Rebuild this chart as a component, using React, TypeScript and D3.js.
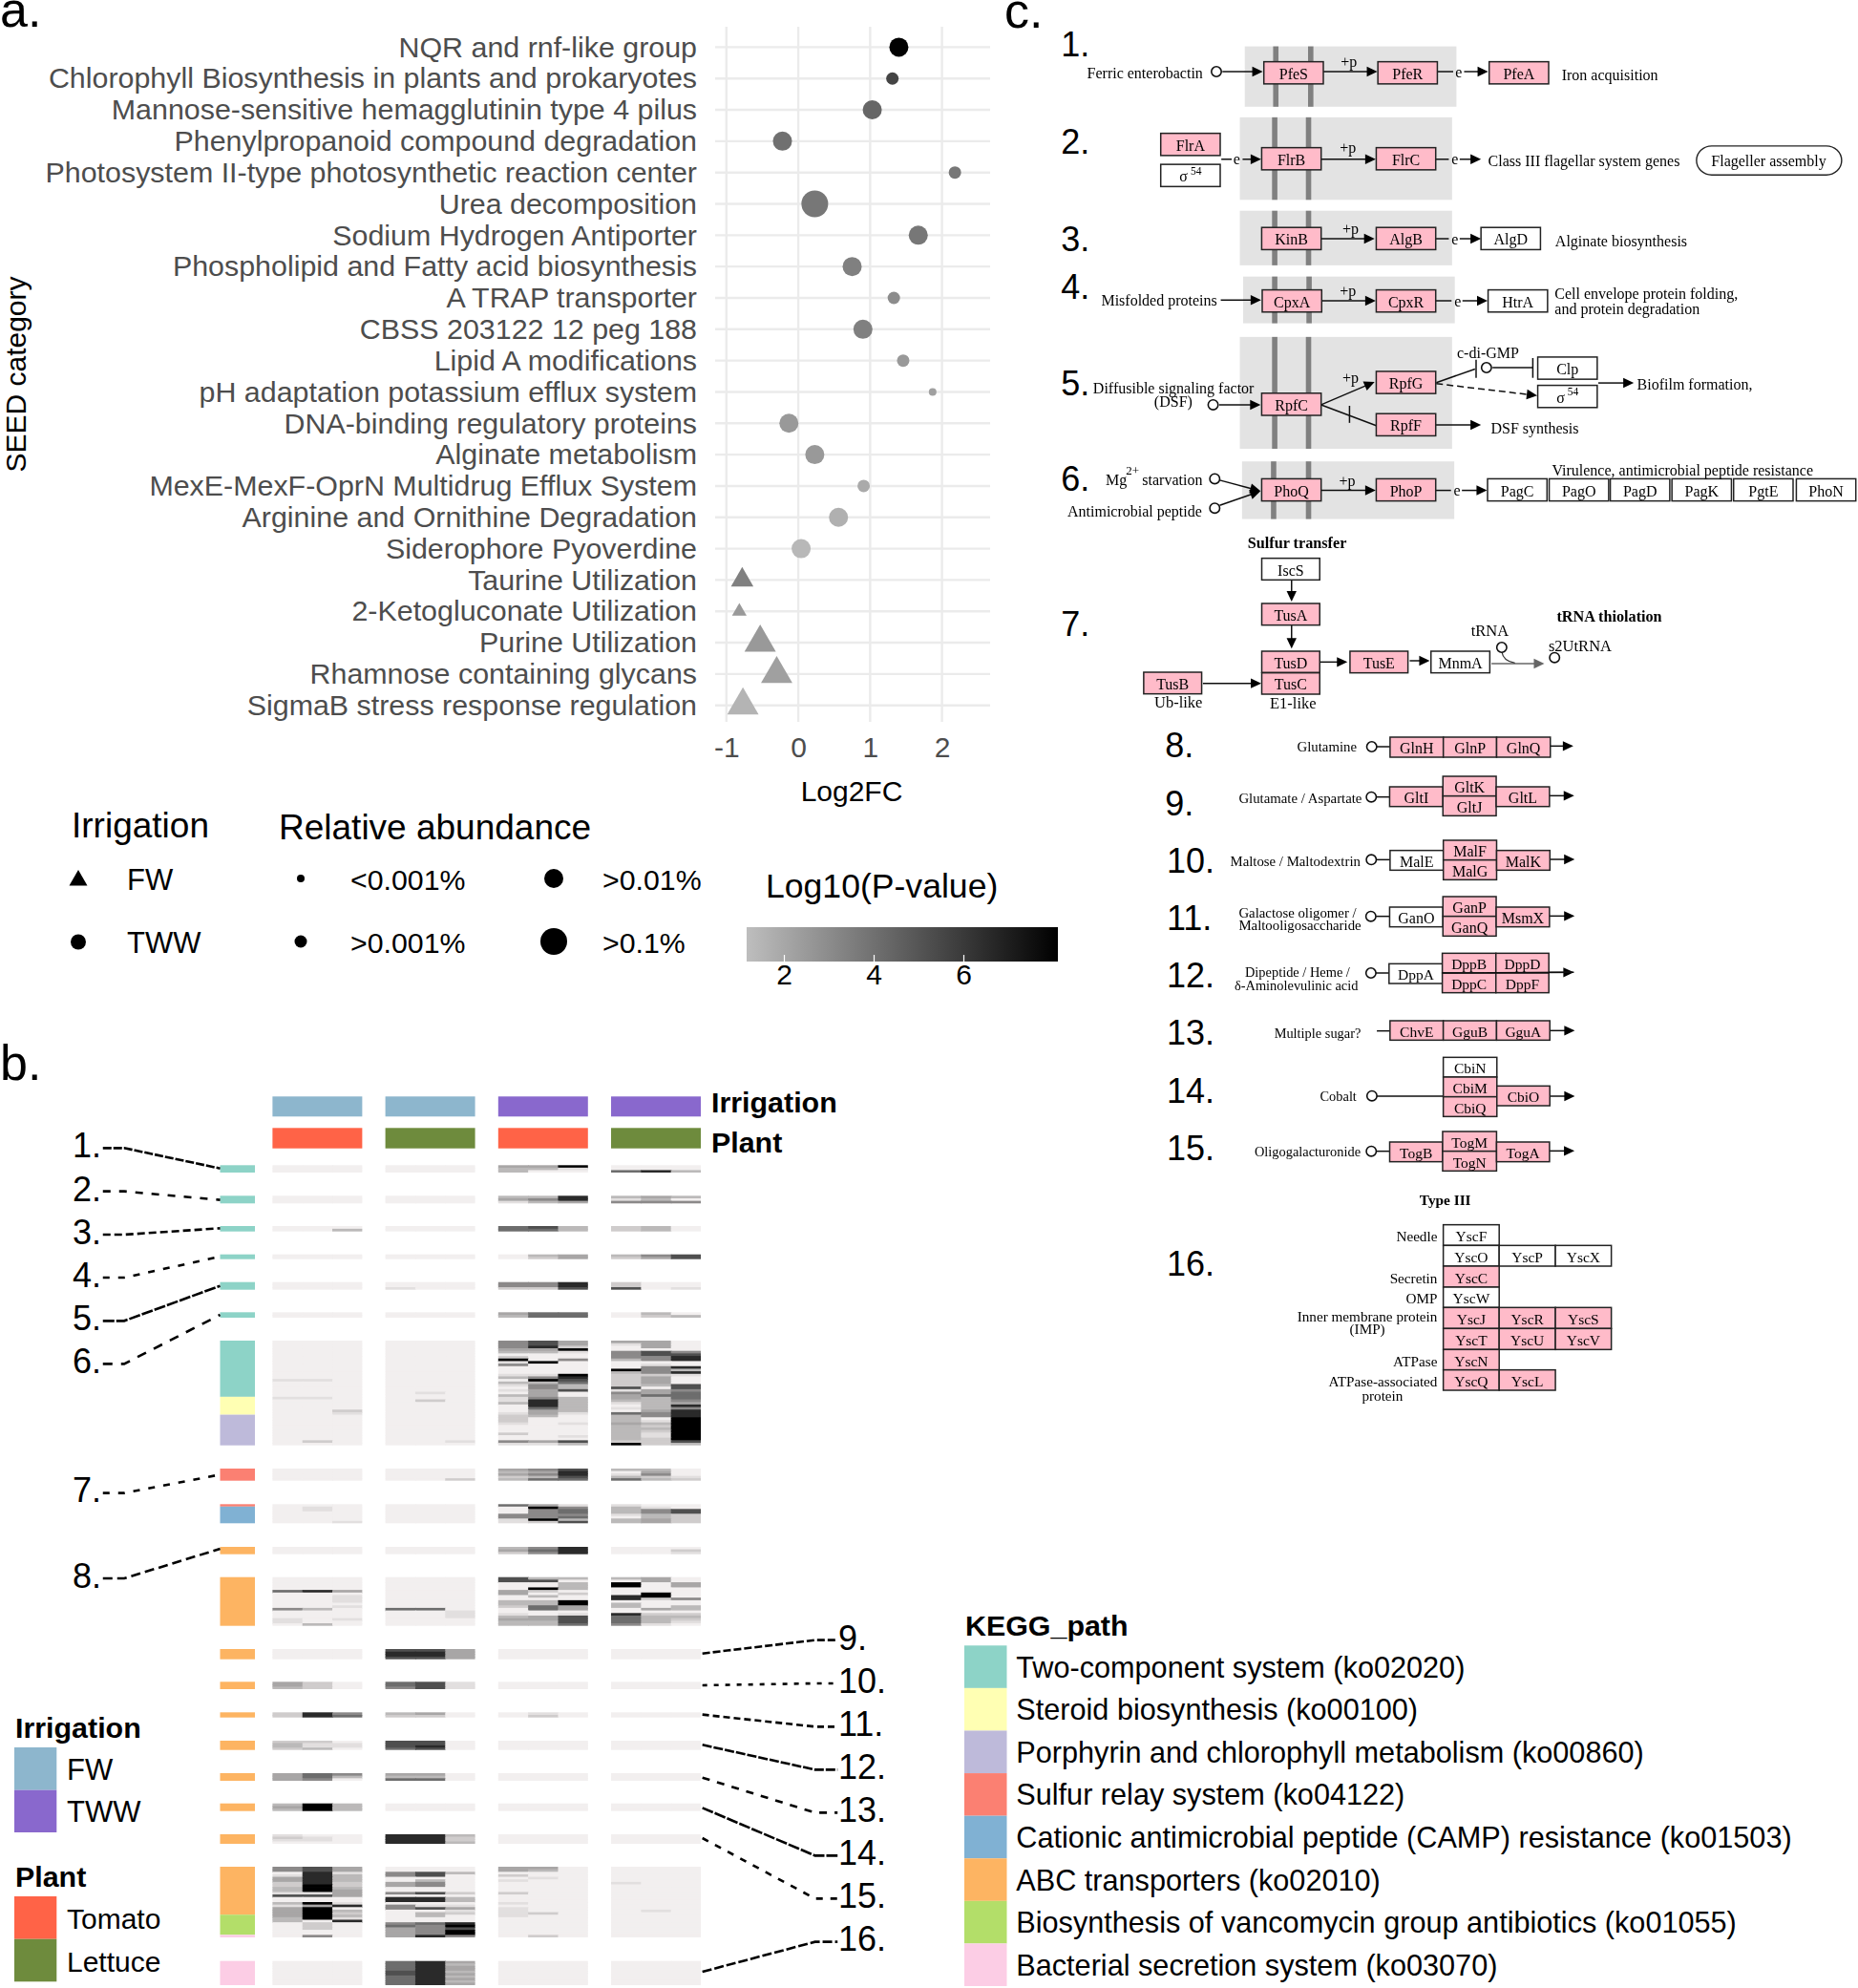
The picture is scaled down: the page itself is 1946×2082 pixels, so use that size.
import React, { useEffect, useRef } from 'react';
import * as d3 from 'd3';

// ---- panel a data
const seedCategories = ['NQR and rnf-like group', 'Chlorophyll Biosynthesis in plants and prokaryotes', 'Mannose-sensitive hemagglutinin type 4 pilus', 'Phenylpropanoid compound degradation', 'Photosystem II-type photosynthetic reaction center', 'Urea decomposition', 'Sodium Hydrogen Antiporter', 'Phospholipid and Fatty acid biosynthesis', 'A TRAP transporter', 'CBSS 203122 12 peg 188', 'Lipid A modifications', 'pH adaptation potassium efflux system', 'DNA-binding regulatory proteins', 'Alginate metabolism', 'MexE-MexF-OprN Multidrug Efflux System', 'Arginine and Ornithine Degradation', 'Siderophore Pyoverdine', 'Taurine Utilization', '2-Ketogluconate Utilization', 'Purine Utilization', 'Rhamnose containing glycans', 'SigmaB stress response regulation'];
const log2fc = [1.4, 1.31, 1.03, -0.22, 2.18, 0.23, 1.67, 0.75, 1.33, 0.9, 1.46, 1.87, -0.13, 0.23, 0.91, 0.56, 0.04, -0.78, -0.82, -0.53, -0.3, -0.77];
const logP = [8.0, 5.6, 4.35, 3.98, 3.73, 3.73, 3.73, 3.4, 2.96, 3.4, 2.49, 2.23, 2.49, 2.49, 1.87, 1.65, 1.36, 3.4, 2.49, 2.49, 2.23, 1.5];
const abundanceClass = [2, 1, 2, 2, 1, 3, 2, 2, 1, 2, 1, 0, 2, 2, 1, 2, 2, 2, 1, 3, 3, 3];
const isFW = [0, 0, 0, 0, 0, 0, 0, 0, 0, 0, 0, 0, 0, 0, 0, 0, 0, 1, 1, 1, 1, 1];
const abundanceLabels = ['<0.001%', '>0.001%', '>0.01%', '>0.1%'];

// ---- panel b data: one digit per cell, 0 = background grey, 9 = black
// big blocks are easier to read off column by column
const fromCols = (cols: string[], n: number) => d3.transpose(cols.map(c => [...c.padEnd(n, '0')])).map((r: any) => r.join(''));

const blockTeal1 = ['000000449000', '000000331000', '000000300683'];
const blockTeal2 = ['000000338343', '000000458130', '000000134555'];
const blockTeal3 = ['000000673230', '003000663230'];
const blockTeal4 = ['000000034357', '000000024247'];
const blockTeal5 = ['000000558200', '000000558200', '000100227701'];
const blockTeal6 = ['000000466030', '000000366023'];
const blockTwoComp = fromCols([
  '000000000000000100000010',
  '0000000000000001000000100000000000000002',
  '0000000000000000000000000002100',
  '',
  '000000000000000000001002',
  '0000000000000000000000000000000000000001',
  '5554302915' + '0001303101' + '0311300012' + '22100020051',
  '7784300090' + '0001593554' + '4458886443' + '00000000041',
  '4429100500' + '0009876337' + '0033333310' + '00100001073',
  '4100555300' + '0932222271' + '5443101063' + '33433333329',
  '4440775501' + '5552444304' + '4633333455' + '01323211222',
  '0000578800' + '8381000775' + '6665485888' + '99999999973',
], 41);
const blockSulfur = ['000000457330', '000000348040', '000000458150', '000000237321', '000002366632'];
const blockCamp = ['000000641100', '010000095310', '010000056357', '000000056357', '000000555132', '000000556032', '000000193342', '001000127342'];
const blockAbc1 = ['000000358000', '000000468002', '000000258001'];
const blockAbc2 = fromCols(['0000060000005000110', '0000080000003000003', '0000040111010000100', '0000000000006000000', '0000000000006000000', '0000000000000111000', '7700044003320013433', '3700920303366004433', '3033302009944017776', '3099000880330086665', '4400009920004023331', '0044000050033023210'], 19);
const stripAbc3 = ['000774000000', '000884000000', '000884000000', '000774000000'];
const stripAbc4 = ['420671000000', '420671000000', '320571000000'];
const stripAbc5 = ['285340010000', '286220020000'];
const stripAbc6 = ['220770000000', '311770000000', '311780000000', '230670000000'];
const stripAbc7 = ['465440000000', '463330000000', '450660000000'];
const stripAbc8 = ['393000000000', '493000000000', '393000000000'];
const stripAbc9 = ['100883000000', '210882000000', '110882000000', '000883000000'];
const blockAbc10 = fromCols([
  '5501442233' + '1700314444' + '33000000',
  '7788888999' + '1700949999' + '90222005',
  '4413332234' + '4400180323' + '18000000',
  '0055004400' + '5088055000' + '00564444',
  '0077035500' + '7088017033' + '00655558',
  '0030000000' + '2033014120' + '00897995',
  '4402010000' + '2000101111' + '00000000',
  '4300100000' + '0000000020' + '00000002',
  '',
  '0000001000',
  '00000000000000000100',
  '',
], 28);
const blockSecretion = ['000684000000', '000683000000', '000684000000', '000684000000', '000783000000', '000784000000', '000683000000', '000684000000', '000683000000', '000684000000'];

const heatBlocks = [blockTeal1, blockTeal2, blockTeal3, blockTeal4, blockTeal5, blockTeal6, blockTwoComp, blockSulfur, blockCamp, blockAbc1, blockAbc2, stripAbc3, stripAbc4, stripAbc5, stripAbc6, stripAbc7, stripAbc8, stripAbc9, blockAbc10, blockSecretion];
// kegg category per block as [category, row count]
const blockPaths: number[][][] = [[[0, 3]], [[0, 3]], [[0, 2]], [[0, 2]], [[0, 3]], [[0, 2]], [[0, 22], [1, 7], [2, 12]], [[3, 5]], [[3, 1], [4, 7]], [[5, 3]], [[5, 19]], [[5, 4]], [[5, 3]], [[5, 2]], [[5, 4]], [[5, 3]], [[5, 3]], [[5, 4]], [[5, 19], [6, 8], [7, 1]], [[7, 10]]];
const blockSpans = [[1220.3, 1228], [1252.3, 1260.3], [1284, 1289.7], [1313.7, 1318.7], [1342.7, 1350.7], [1374.3, 1380], [1404, 1513.7], [1538, 1550.7], [1575.3, 1595.3], [1620, 1627.7], [1651.7, 1702.7], [1727, 1737.7], [1761.3, 1769], [1793.3, 1798.7], [1823, 1832.7], [1857, 1865], [1888.7, 1896.7], [1921, 1931], [1955, 2029], [2053.7, 2079]];
const heatGroups = ['FW Tomato', 'FW Lettuce', 'TWW Tomato', 'TWW Lettuce'];

const keggPaths = ['Two-component system (ko02020)', 'Steroid biosynthesis (ko00100)', 'Porphyrin and chlorophyll metabolism (ko00860)', 'Sulfur relay system (ko04122)', 'Cationic antimicrobial peptide (CAMP) resistance (ko01503)', 'ABC transporters (ko02010)', 'Biosynthesis of vancomycin group antibiotics (ko01055)', 'Bacterial secretion system (ko03070)'];
const keggColors = ['#8DD3C7', '#FFFFB3', '#BEBADA', '#FB8072', '#80B1D3', '#FDB462', '#B3DE69', '#FCCDE5'];
const irrigationColors: any = { FW: '#8DB6CD', TWW: '#8968CD' };
const plantColors: any = { Tomato: '#FF6347', Lettuce: '#6E8B3D' };

// leader lines, traced in crop coordinates
const leftLeaders = [
  ['1.', 208, '9 2', [[107, 217], [157, 217], [382, 281]]],
  ['2.', 345, '8 9', [[107, 353], [157, 353], [382, 380]]],
  ['3.', 480, '8 4', [[107, 489], [157, 489], [382, 469]]],
  ['4.', 615, '7 9', [[107, 624], [157, 624], [382, 558]]],
  ['5.', 750, '12 2', [[107, 760], [157, 760], [382, 650]]],
  ['6.', 885, '10 9', [[107, 895], [157, 895], [382, 741]]],
  ['7.', 1290, '7 9', [[107, 1301], [157, 1301], [382, 1243]]],
  ['8.', 1560, '10 5', [[107, 1569], [157, 1569], [382, 1476]]],
];
const rightLeaders = [
  ['9.', 285, '8 3', [[1135, 335], [1385, 293], [1435, 293]]],
  ['10.', 420, '5 7', [[1135, 435], [1385, 429], [1435, 429]]],
  ['11.', 555, '7 4', [[1135, 527], [1385, 565], [1435, 565]]],
  ['12.', 690, '10 2', [[1135, 622], [1385, 700], [1435, 700]]],
  ['13.', 825, '8 8', [[1135, 725], [1385, 835], [1435, 835]]],
  ['14.', 960, '12 2', [[1135, 820], [1385, 970], [1435, 970]]],
  ['15.', 1097, '7 8', [[1135, 915], [1385, 1105], [1435, 1105]]],
  ['16.', 1232, '10 3', [[1135, 1335], [1385, 1241], [1435, 1241]]],
];

// ---- panel c: KEGG pathway drawings, in crop coordinates of each part
const partA = { x: d3.scaleLinear([0, 1568], [1050, 1946]), y: d3.scaleLinear([0, 1568], [0, 560]) };
const partB = { x: d3.scaleLinear([0, 1568], [1080, 1780]), y: d3.scaleLinear([0, 1440], [540, 1020]) };
const partC = { x: d3.scaleLinear([0, 1568], [1180, 1720]), y: d3.scaleLinear([0, 1440], [1000, 1480]) };

const membranes = [[444, 832, 136, 313, 496, 560], [435, 824, 344, 586, 494, 556], [435, 824, 618, 778, 494, 556], [441, 829, 811, 948, 494, 557], [435, 824, 988, 1316, 494, 556], [439, 828, 1353, 1522, 492, 556]];
const boxesA: any[] = [['PfeS', 479, 181, 1], ['PfeR', 688, 181, 1], ['PfeA', 892, 181, 1], ['FlrA', 290, 391, 1], ['σ', 290, 482, 0], ['FlrB', 475, 433, 1], ['FlrC', 685, 433, 1], ['KinB', 475, 667, 1], ['AlgB', 685, 667, 1], ['AlgD', 877, 667, 0], ['CpxA', 476, 850, 1], ['CpxR', 685, 850, 1], ['HtrA', 890, 850, 0], ['RpfC', 475, 1153, 1], ['RpfG', 685, 1089, 1], ['RpfF', 685, 1213, 1], ['Clp', 981, 1047, 0], ['σ', 981, 1130, 0], ['PhoQ', 475, 1404, 1], ['PhoP', 685, 1404, 1], ['PagC', 889, 1404, 0], ['PagO', 1002, 1404, 0], ['PagD', 1114, 1404, 0], ['PagK', 1227, 1404, 0], ['PgtE', 1340, 1404, 0], ['PhoN', 1455, 1404, 0]];
const labelsA: any[] = [['Ferric enterobactin', 155, 215], ['Iron acquisition', 1025, 220], ['Class III flagellar system genes', 890, 473], ['Flageller assembly', 1299, 473], ['Alginate biosynthesis', 1013, 706], ['Misfolded proteins', 181, 881], ['Cell envelope protein folding,', 1012, 862], ['and protein degradation', 1012, 905], ['Diffusible signaling factor', 166, 1137], ['(DSF)', 278, 1178], ['c-di-GMP', 833, 1035], ['Biofilm formation,', 1163, 1128], ['DSF synthesis', 895, 1256], ['Mg', 189, 1407], ['starvation', 256, 1407], ['Antimicrobial peptide', 119, 1500], ['Virulence, antimicrobial peptide resistance', 1007, 1380], ['+p', 620, 180], ['+p', 618, 432], ['+p', 623, 670], ['+p', 618, 852], ['+p', 623, 1108], ['+p', 617, 1410], ['e', 830, 210], ['e', 423, 467], ['e', 823, 467], ['e', 823, 700], ['e', 828, 882], ['e', 827, 1438]];
const linesA: any[] = [[403, 210, 477, 210, 'a'], [588, 210, 687, 210, 'a'], [797, 210, 826, 210, 'l'], [846, 210, 890, 210, 'a'], [401, 467, 420, 467, 'l'], [440, 467, 474, 467, 'a'], [584, 467, 684, 467, 'a'], [793, 467, 818, 467, 'l'], [838, 467, 877, 467, 'a'], [584, 700, 682, 700, 'a'], [793, 700, 818, 700, 'l'], [838, 700, 877, 700, 'a'], [400, 880, 474, 880, 'a'], [585, 882, 684, 882, 'a'], [793, 882, 823, 882, 'l'], [843, 882, 889, 882, 'a'], [397, 1187, 473, 1187, 'a'], [584, 1187, 682, 1120, 'a'], [584, 1187, 685, 1248, 'l'], [636, 1190, 636, 1240, 'l'], [793, 1246, 877, 1246, 'a'], [795, 1122, 866, 1082, 'l'], [868, 1055, 868, 1108, 'l'], [898, 1078, 972, 1078, 'l'], [972, 1050, 972, 1108, 'l'], [795, 1125, 980, 1160, 'd'], [1092, 1123, 1157, 1123, 'a'], [398, 1408, 473, 1440, 'a'], [398, 1482, 473, 1440, 'a'], [584, 1438, 684, 1438, 'a'], [793, 1438, 822, 1438, 'l'], [842, 1438, 888, 1438, 'a']];
const circlesA = [[392, 210], [386, 1187], [887, 1078], [389, 1404], [389, 1490]];
const numbersA: any[] = [['1.', 107, 130], ['2.', 107, 415], ['3.', 107, 700], ['4.', 107, 840], ['5.', 107, 1125], ['6.', 107, 1405]];

const boxesB: any[] = [['IscS', 541, 134, 677, 202, 0], ['TusA', 541, 276, 677, 344, 1], ['TusD', 541, 426, 677, 493, 1], ['TusC', 541, 494, 677, 561, 1], ['TusE', 748, 426, 884, 494, 1], ['MnmA', 938, 426, 1076, 494, 0], ['TusB', 264, 492, 400, 560, 1], ['GlnH', 842, 696, 967, 759, 1], ['GlnP', 967, 696, 1092, 759, 1], ['GlnQ', 1092, 696, 1218, 759, 1], ['GltI', 841, 852, 966, 914, 1], ['GltK', 966, 819, 1091, 881, 1], ['GltJ', 966, 881, 1091, 943, 1], ['GltL', 1091, 852, 1216, 914, 1], ['MalE', 842, 1052, 967, 1114, 0], ['MalF', 967, 1020, 1092, 1082, 1], ['MalG', 967, 1082, 1092, 1144, 1], ['MalK', 1092, 1052, 1217, 1114, 1], ['GanO', 841, 1230, 966, 1292, 0], ['GanP', 966, 1197, 1091, 1259, 1], ['GanQ', 966, 1259, 1091, 1321, 1], ['MsmX', 1091, 1230, 1216, 1292, 1]];
const labelsB: any[] = [['Glutamine', 624, 727], ['Glutamate / Aspartate', 487, 889], ['Maltose / Maltodextrin', 467, 1086], ['Galactose oligomer /', 487, 1247], ['Maltooligosaccharide', 487, 1286]];
const largeLabelsB: any[] = [['Ub-like', 289, 586], ['E1-like', 560, 590], ['tRNA', 1032, 360], ['s2UtRNA', 1214, 408]];
const boldB: any[] = [['Sulfur transfer', 508, 88], ['tRNA thiolation', 1233, 318]];
const linesB: any[] = [[611, 202, 611, 270, 'a'], [611, 344, 611, 418, 'a'], [677, 460, 742, 460, 'a'], [888, 456, 935, 456, 'a'], [403, 527, 540, 527, 'a'], [811, 726, 842, 726, 'l'], [1218, 724, 1272, 724, 'a'], [810, 884, 841, 884, 'l'], [1216, 880, 1274, 880, 'a'], [810, 1081, 842, 1081, 'l'], [1217, 1080, 1275, 1080, 'a'], [809, 1259, 841, 1259, 'l'], [1216, 1258, 1275, 1258, 'a'], [1080, 465, 1204, 465, 'g']];
const circlesB = [[1104, 414], [1228, 446], [799, 726], [798, 884], [798, 1081], [797, 1259]];
const numbersB: any[] = [['7.', 70, 340], ['8.', 314, 722], ['9.', 314, 903], ['10.', 318, 1083], ['11.', 318, 1263]];

const boxesC: any[] = [['DppA', 798, 28, 961, 90, 0], ['DppB', 960, -5, 1123, 57, 1], ['DppD', 1123, -5, 1284, 57, 1], ['DppC', 960, 57, 1123, 119, 1], ['DppF', 1123, 57, 1284, 119, 1], ['ChvE', 801, 207, 963, 268, 1], ['GguB', 963, 207, 1125, 268, 1], ['GguA', 1125, 207, 1287, 268, 1], ['CbiN', 963, 322, 1126, 384, 0], ['CbiM', 963, 384, 1126, 446, 1], ['CbiQ', 963, 446, 1126, 508, 1], ['CbiO', 1126, 412, 1287, 474, 1], ['TogB', 800, 588, 961, 650, 1], ['TogM', 961, 555, 1125, 617, 1], ['TogN', 961, 617, 1125, 679, 1], ['TogA', 1125, 588, 1286, 650, 1], ['YscF', 963, 848, 1133, 913, 0], ['YscO', 963, 913, 1133, 978, 0], ['YscP', 1133, 913, 1304, 978, 0], ['YscX', 1304, 913, 1474, 978, 0], ['YscC', 963, 978, 1133, 1044, 1], ['YscW', 963, 1044, 1133, 1108, 0], ['YscJ', 963, 1108, 1133, 1174, 1], ['YscR', 1133, 1108, 1304, 1174, 1], ['YscS', 1304, 1108, 1474, 1174, 1], ['YscT', 963, 1174, 1133, 1240, 1], ['YscU', 1133, 1174, 1304, 1240, 1], ['YscV', 1304, 1174, 1474, 1240, 1], ['YscN', 963, 1240, 1133, 1304, 1], ['YscQ', 963, 1304, 1133, 1368, 1], ['YscL', 1133, 1304, 1304, 1368, 1]];
const labelsC: any[] = [['Dipeptide / Heme /', 360, 55], ['δ-Aminolevulinic acid', 328, 95], ['Multiple sugar?', 449, 245], ['Cobalt', 588, 443], ['Oligogalacturonide', 389, 618]];
const rightLabelsC: any[] = [['Needle', 945, 884], ['Secretin', 945, 1014], ['OMP', 945, 1078], ['Inner membrane protein', 945, 1134], ['ATPase', 945, 1275], ['ATPase-associated', 945, 1340]];
const midLabelsC: any[] = [['(IMP)', 732, 1173], ['protein', 778, 1383]];
const linesC: any[] = [[755, 57, 798, 57, 'l'], [1284, 55, 1360, 55, 'a'], [761, 239, 801, 239, 'l'], [1287, 238, 1363, 238, 'a'], [760, 444, 963, 444, 'l'], [1287, 444, 1363, 444, 'a'], [756, 617, 800, 617, 'l'], [1286, 616, 1362, 616, 'a']];
const circlesC = [[743, 57], [746, 443], [744, 617]];
const numbersC: any[] = [['12.', 122, 65], ['13.', 122, 245], ['14.', 122, 428], ['15.', 122, 607], ['16.', 122, 970]];

const SANS = '"Liberation Sans", Arial, sans-serif';
const SERIF = '"Liberation Serif", "Times New Roman", serif';
const PINK = '#FFBBC9';

function App() {
  const svgRef = useRef<SVGSVGElement>(null);

  useEffect(() => {
    const svg = d3.select(svgRef.current).attr('font-family', SANS);
    svg.selectAll('*').remove();
    const put = (g: any, s: string, x: number, y: number, size: number, opts: any = {}) =>
      g.append('text').text(s).attr('x', x).attr('y', y).attr('font-size', size)
        .attr('text-anchor', opts.anchor || 'start').attr('dominant-baseline', opts.base || 'central')
        .attr('fill', opts.fill || '#000').attr('font-weight', opts.weight || 'normal');

    put(svg, 'a.', 0, 28, 52, { base: 'alphabetic' });
    put(svg, 'b.', 0, 1131, 52, { base: 'alphabetic' });
    put(svg, 'c.', 1052, 29, 52, { base: 'alphabetic' });

    // ---- panel a
    const a = svg.append('g');
    const x = d3.scaleLinear().domain([-1, 2]).range([760.8, 986.6]);
    const y = d3.scalePoint().domain(seedCategories).range([49.4, 738.7]);
    const pColor = d3.scaleLinear<string>().domain([1.14, 8.07]).range(['#bebebe', '#000000']);
    const radius = d3.scaleOrdinal<number, number>().domain([0, 1, 2, 3]).range([4, 6.5, 10, 14]);

    a.selectAll('.hgrid').data(seedCategories).join('line').attr('x1', 749).attr('x2', 1037)
      .attr('y1', d => y(d)).attr('y2', d => y(d)).attr('stroke', '#ebebeb').attr('stroke-width', 2.4);
    a.selectAll('.vgrid').data(x.ticks(3)).join('line').attr('x1', d => x(d)).attr('x2', d => x(d))
      .attr('y1', 28).attr('y2', 756).attr('stroke', '#ebebeb').attr('stroke-width', 2.4);

    const xAxis = a.append('g').attr('transform', 'translate(0,756)')
      .call(d3.axisBottom(x).tickValues([-1, 0, 1, 2]).tickSize(0).tickPadding(16).tickFormat((d: any) => String(d)));
    xAxis.select('.domain').remove();
    xAxis.selectAll('text').attr('font-size', 30).attr('font-family', SANS).attr('fill', '#4d4d4d');

    const yAxis = a.append('g').attr('transform', 'translate(730,0)')
      .call(d3.axisLeft(y).tickSize(0).tickPadding(0));
    yAxis.select('.domain').remove();
    yAxis.selectAll('text').attr('font-size', 30.4).attr('font-family', SANS).attr('fill', '#4d4d4d');

    const triSide = (r: number) => r * 2.35;
    a.selectAll('.pt').data(seedCategories).join('path')
      .attr('transform', d => `translate(${x(log2fc[seedCategories.indexOf(d)])},${y(d)})`)
      .attr('d', d => {
        const i = seedCategories.indexOf(d);
        const r = radius(abundanceClass[i]);
        return isFW[i]
          ? d3.symbol(d3.symbolTriangle, triSide(r) ** 2 * Math.sqrt(3) / 4)()
          : d3.symbol(d3.symbolCircle, Math.PI * r * r)();
      })
      .attr('fill', d => pColor(logP[seedCategories.indexOf(d)]));

    put(a, 'Log2FC', 892, 828, 30, { anchor: 'middle' });
    a.append('text').text('SEED category').attr('transform', 'translate(16,392) rotate(-90)')
      .attr('text-anchor', 'middle').attr('dominant-baseline', 'central').attr('font-size', 30);

    // legends of panel a
    put(a, 'Irrigation', 75, 864, 37);
    put(a, 'Relative abundance', 292, 866, 37);
    a.append('path').attr('transform', 'translate(82,922)').attr('d', d3.symbol(d3.symbolTriangle, 19 * 19 * Math.sqrt(3) / 4)());
    a.append('circle').attr('cx', 82).attr('cy', 986.5).attr('r', 8);
    put(a, 'FW', 133, 921, 31);
    put(a, 'TWW', 133, 987, 31);
    abundanceLabels.forEach((s, i) => {
      const lx = i < 2 ? 315 : 580;
      const ly = i % 2 ? 986 : 920;
      a.append('circle').attr('cx', lx).attr('cy', ly).attr('r', radius(i));
      put(a, s, i < 2 ? 367 : 631, ly + 1, 30.3);
    });
    put(a, 'Log10(P-value)', 802, 928, 35.6);
    const grad = svg.append('defs').append('linearGradient').attr('id', 'pgrad');
    d3.range(0, 1.01, 0.1).forEach(t => grad.append('stop').attr('offset', t).attr('stop-color', pColor(1.14 + t * 6.93)));
    a.append('rect').attr('x', 782).attr('y', 971).attr('width', 326).attr('height', 36).attr('fill', 'url(#pgrad)');
    const bar = d3.scaleLinear().domain([2, 6]).range([821.5, 1009.5]);
    [2, 4, 6].forEach(t => {
      a.append('line').attr('x1', bar(t)).attr('x2', bar(t)).attr('y1', 1000).attr('y2', 1007).attr('stroke', '#fff').attr('stroke-width', 1.2);
      put(a, String(t), bar(t), 1020, 30, { anchor: 'middle' });
    });

    // ---- panel b
    const defs = svg.select('defs');
    defs.append('filter').attr('id', 'soft').attr('x', '-2%').attr('width', '104%').attr('y', '-2%').attr('height', '104%')
      .append('feGaussianBlur').attr('stdDeviation', 0.6);
    defs.append('filter').attr('id', 'soft2').attr('x', '-2%').attr('width', '104%').attr('y', '-2%').attr('height', '104%')
      .append('feGaussianBlur').attr('stdDeviation', 0.35);

    const b = svg.append('g');
    const group = d3.scaleBand().domain(heatGroups).range([285.4, 734]).paddingInner(0.205);
    const cell = d3.scaleBand<number>().domain([0, 1, 2]).range([0, group.bandwidth()]);
    const heatColor = d3.scaleLinear<string>().domain([0, 1, 4, 7, 9]).range(['#f2efef', '#e2dfdf', '#a8a6a6', '#505050', '#050505']);

    heatGroups.forEach(gr => {
      const [irr, plant] = gr.split(' ');
      b.append('rect').attr('x', group(gr)).attr('width', group.bandwidth()).attr('y', 1148.3).attr('height', 21).attr('fill', irrigationColors[irr]);
      b.append('rect').attr('x', group(gr)).attr('width', group.bandwidth()).attr('y', 1181.3).attr('height', 21.4).attr('fill', plantColors[plant]);
    });
    put(b, 'Irrigation', 745, 1154, 30.4, { weight: 'bold' });
    put(b, 'Plant', 745, 1196, 30.4, { weight: 'bold' });

    const heat = b.append('g').attr('filter', 'url(#soft)');
    heatBlocks.forEach((rows, bi) => {
      const yRow = d3.scaleBand<number>().domain(d3.range(rows.length)).range(blockSpans[bi] as [number, number]);
      // annotation column: one rect per run of rows with the same category
      let from = 0;
      blockPaths[bi].forEach(([cat, n]) => {
        b.append('rect').attr('x', 230.5).attr('width', 36.5).attr('y', yRow(from)).attr('height', yRow.bandwidth() * n).attr('fill', keggColors[cat]);
        from += n;
      });
      rows.forEach((row, ri) => {
        // rows and cells overlap a little so that no white seam shows between them
        const overlapY = ri < rows.length - 1 ? 0.8 : 0;
        heat.selectAll(null).data([...row]).join('rect')
          .attr('x', (_, ci) => group(heatGroups[Math.floor(ci / 3)])! + cell(ci % 3)!)
          .attr('width', (_, ci) => cell.bandwidth() + (ci % 3 < 2 ? 0.8 : 0))
          .attr('y', yRow(ri)).attr('height', yRow.bandwidth() + overlapY)
          .attr('fill', d => heatColor(+d));
      });
    });

    const leaderL = { x: d3.scaleLinear([0, 1568], [60, 760]), y: d3.scaleLinear([0, 1500], [1130, 1630]) };
    const leaderR = { x: d3.scaleLinear([0, 1568], [200, 940]), y: d3.scaleLinear([0, 1386], [1620, 2082]) };
    const leader = (rows: any[], sc: any, numX: number) => rows.forEach(([s, ny, dash, pts]) => {
      b.append('path').attr('d', d3.line().x((p: any) => sc.x(p[0])).y((p: any) => sc.y(p[1]))(pts))
        .attr('fill', 'none').attr('stroke', '#000').attr('stroke-width', 2.6).attr('stroke-dasharray', dash);
      put(b, s, numX, sc.y(ny), 36);
    });
    leader(leftLeaders, leaderL, 76);
    leader(rightLeaders, leaderR, 878);

    // legends of panel b
    put(b, 'Irrigation', 16, 1809, 30.4, { weight: 'bold' });
    b.append('rect').attr('x', 15).attr('y', 1830).attr('width', 44.3).attr('height', 44.7).attr('fill', irrigationColors.FW);
    b.append('rect').attr('x', 15).attr('y', 1874.7).attr('width', 44.3).attr('height', 44.3).attr('fill', irrigationColors.TWW);
    put(b, 'FW', 70, 1853, 31);
    put(b, 'TWW', 70, 1897.7, 31);
    put(b, 'Plant', 16, 1965, 30.4, { weight: 'bold' });
    b.append('rect').attr('x', 15).attr('y', 1986).attr('width', 44.3).attr('height', 44.7).attr('fill', plantColors.Tomato);
    b.append('rect').attr('x', 15).attr('y', 2030.7).attr('width', 44.3).attr('height', 44.6).attr('fill', plantColors.Lettuce);
    put(b, 'Tomato', 70, 2009, 30);
    put(b, 'Lettuce', 70, 2054, 30);

    put(b, 'KEGG_path', 1011, 1702, 30.4, { weight: 'bold' });
    const keggY = d3.scaleBand().domain(keggPaths).range([1723.3, 2080]);
    keggPaths.forEach((s, i) => {
      b.append('rect').attr('x', 1010).attr('width', 44.5).attr('y', keggY(s)).attr('height', keggY.bandwidth()).attr('fill', keggColors[i]);
      put(b, s, 1064.3, keggY(s)! + keggY.bandwidth() / 2, 30.65);
    });

    // ---- panel c
    const c = svg.append('g').attr('font-family', SERIF);
    const soft = c.append('g').attr('filter', 'url(#soft2)');
    const drawArrows = (rows: any[], p: any) => rows.forEach(([x1, y1, x2, y2, kind]) => {
      const [ax, ay, bx, by] = [p.x(x1), p.y(y1), p.x(x2), p.y(y2)];
      const ang = Math.atan2(by - ay, bx - ax);
      const hasHead = kind !== 'l';
      const color = kind === 'g' ? '#666' : '#111';
      soft.append('line').attr('x1', ax).attr('y1', ay)
        .attr('x2', hasHead ? bx - 8 * Math.cos(ang) : bx).attr('y2', hasHead ? by - 8 * Math.sin(ang) : by)
        .attr('stroke', color).attr('stroke-width', 1.5).attr('stroke-dasharray', kind === 'd' ? '7 4' : null);
      if (hasHead) {
        const L = 11, W = 5.2;
        const pts = [[bx, by], [bx - L * Math.cos(ang) - W * Math.sin(ang), by - L * Math.sin(ang) + W * Math.cos(ang)], [bx - L * Math.cos(ang) + W * Math.sin(ang), by - L * Math.sin(ang) - W * Math.cos(ang)]];
        soft.append('polygon').attr('points', pts.map(q => q.join(',')).join(' ')).attr('fill', kind === 'g' ? '#666' : '#000');
      }
    });
    const drawCircles = (rows: number[][], p: any) => rows.forEach(([cx, cy]) => {
      soft.append('circle').attr('cx', p.x(cx)).attr('cy', p.y(cy)).attr('r', 5.2).attr('fill', '#fff').attr('stroke', '#111').attr('stroke-width', 1.6);
    });
    const drawBoxes = (rows: any[], p: any, size: number) => rows.forEach(([s, x0, y0, x1, y1, pink]) => {
      soft.append('rect').attr('x', p.x(x0)).attr('y', p.y(y0)).attr('width', p.x(x1) - p.x(x0)).attr('height', p.y(y1) - p.y(y0))
        .attr('fill', pink ? PINK : '#fff').attr('stroke', '#222').attr('stroke-width', 1.5);
      const t = put(soft, s, (p.x(x0) + p.x(x1)) / 2, (p.y(y0) + p.y(y1)) / 2 + 1, size, { anchor: 'middle' });
      if (s === 'σ') t.append('tspan').text('54').attr('font-size', size * 0.72).attr('dy', -6).attr('dx', 3);
    });
    const drawLabels = (rows: any[], p: any, size: number, opts: any = {}) => rows.forEach(([s, lx, ly]) => put(soft, s, p.x(lx), p.y(ly), size, opts));
    const drawNumbers = (rows: any[], p: any) => rows.forEach(([s, nx, ny]) => {
      c.append('text').text(s).attr('x', p.x(nx)).attr('y', p.y(ny)).attr('font-family', SANS).attr('font-size', 36).attr('dominant-baseline', 'central');
    });

    membranes.forEach(([x0, x1, y0, y1, m1, m2]) => {
      soft.append('rect').attr('x', partA.x(x0)).attr('y', partA.y(y0)).attr('width', partA.x(x1) - partA.x(x0)).attr('height', partA.y(y1) - partA.y(y0)).attr('fill', '#e3e3e3');
      [m1, m2].forEach(m => soft.append('rect').attr('x', partA.x(m)).attr('y', partA.y(y0)).attr('width', 5.6).attr('height', partA.y(y1) - partA.y(y0)).attr('fill', '#808080'));
    });
    soft.append('rect').attr('x', partA.x(1272)).attr('y', partA.y(428)).attr('width', partA.x(1538) - partA.x(1272)).attr('height', partA.y(513) - partA.y(428)).attr('rx', 16).attr('fill', '#fff').attr('stroke', '#222').attr('stroke-width', 1.4);

    drawArrows(linesA, partA);
    drawCircles(circlesA, partA);
    drawBoxes(boxesA.map(([s, x0, y0, pink]) => [s, x0, y0, x0 + 109, y0 + 65, pink]), partA, 16);
    drawLabels(labelsA, partA, 16);
    put(soft, '2+', partA.x(226), partA.y(1380), 13);
    drawNumbers(numbersA, partA);

    drawArrows(linesB, partB);
    soft.append('path').attr('d', `M${partB.x(1104)},${partB.y(428)} Q${partB.x(1108)},${partB.y(458)} ${partB.x(1135)},${partB.y(463)}`).attr('fill', 'none').attr('stroke', '#333').attr('stroke-width', 1.2);
    drawCircles(circlesB, partB);
    drawBoxes(boxesB, partB, 16);
    drawLabels(labelsB, partB, 14.8);
    drawLabels(largeLabelsB, partB, 16.5);
    drawLabels(boldB, partB, 16.2, { weight: 'bold' });
    drawNumbers(numbersB, partB);

    drawArrows(linesC, partC);
    drawCircles(circlesC, partC);
    drawBoxes(boxesC, partC, 15.5);
    drawArrows([[961, 57, 1360, 55, 'l']], partC);
    drawLabels(labelsC, partC, 14.4);
    drawLabels(rightLabelsC, partC, 15.2, { anchor: 'end' });
    drawLabels(midLabelsC, partC, 15.2, { anchor: 'middle' });
    put(soft, 'Type III', partC.x(891), partC.y(770), 15.3, { weight: 'bold' });
    drawNumbers(numbersC, partC);
  }, []);

  return <svg ref={svgRef} width={1946} height={2082} style={{ position: 'absolute', left: 0, top: 0, display: 'block' }} />;
}

export default App;
